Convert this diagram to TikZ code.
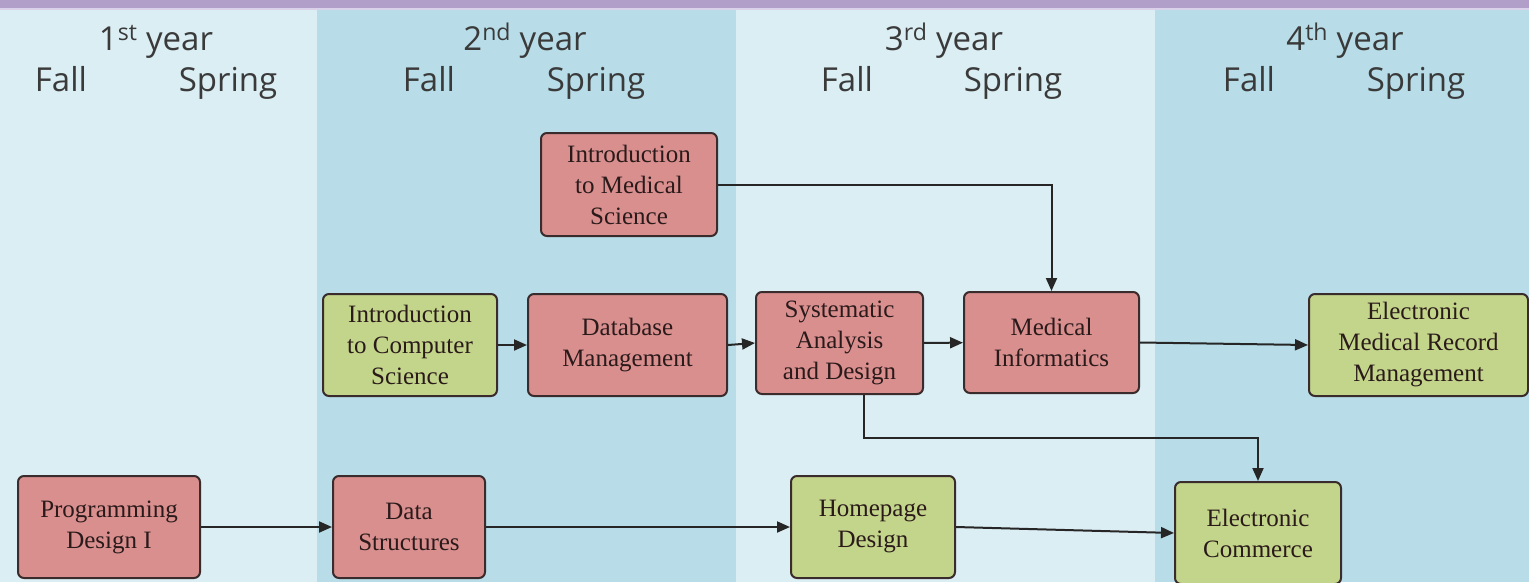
\documentclass[tikz,border=0pt]{standalone}
\usepackage{fontspec}
\setmainfont{Liberation Serif}
\newfontfamily\headfont{Open Sans}
\usetikzlibrary{arrows.meta}
\definecolor{bandlight}{HTML}{DBEEF4}
\definecolor{banddark}{HTML}{B8DDE8}
\definecolor{barpurple}{HTML}{B29FC9}
\definecolor{barline}{HTML}{D9D2EA}
\definecolor{boxred}{HTML}{DA8F8F}
\definecolor{boxgreen}{HTML}{C3D58A}
\definecolor{boxline}{HTML}{3A2C2C}
\definecolor{headtext}{HTML}{3A3A3A}
\definecolor{boxtext}{HTML}{2A1A1A}
\tikzset{
  course/.style={draw=boxline, line width=2pt, rounded corners=6pt, align=center,
    inner sep=0pt, text=boxtext,
    font=\fontsize{25}{31}\selectfont},
  redbox/.style={course, fill=boxred},
  greenbox/.style={course, fill=boxgreen},
  arr/.style={draw=black!85, line width=2pt, -{Triangle[length=13pt,width=11pt]}},
  head/.style={anchor=base, text=headtext, inner sep=0pt, font=\headfont\fontsize{33}{36}\selectfont}
}
\begin{document}
\begin{tikzpicture}[x=1pt,y=-1pt]
\clip (0,0) rectangle (1529,582);
% bands
\fill[bandlight] (0,0) rectangle (317,582);
\fill[banddark] (317,0) rectangle (736,582);
\fill[bandlight] (736,0) rectangle (1155,582);
\fill[banddark] (1155,0) rectangle (1529,582);
\fill[barline] (0,0) rectangle (1529,10);
\fill[barpurple] (0,0) rectangle (1529,8);
% headers
\node[head] (y1) at (156,50) {1\textsuperscript{st} year};
\node[head] (f1) at (61,91) {Fall};
\node[head] (s1) at (228,91) {Spring};
\node[head] (y2) at (525,50) {2\textsuperscript{nd} year};
\node[head] (f2) at (429,91) {Fall};
\node[head] (s2) at (596,91) {Spring};
\node[head] (y3) at (944,50) {3\textsuperscript{rd} year};
\node[head] (f3) at (847,91) {Fall};
\node[head] (s3) at (1013,91) {Spring};
\node[head] (y4) at (1345,50) {4\textsuperscript{th} year};
\node[head] (f4) at (1249,91) {Fall};
\node[head] (s4) at (1416,91) {Spring};
% courses
\node[redbox, minimum width=182pt, minimum height=102pt] (pd) at (109,527) {Programming\\Design I};
\node[redbox, minimum width=152pt, minimum height=102pt] (ds) at (409,527) {Data\\Structures};
\node[greenbox, minimum width=164pt, minimum height=102pt] (hp) at (873,527) {Homepage\\Design};
\node[greenbox, minimum width=166pt, minimum height=102pt] (ec) at (1258,533) {Electronic\\Commerce};
\node[greenbox, minimum width=174pt, minimum height=102pt] (ics) at (410,345) {Introduction\\to Computer\\Science};
\node[redbox, minimum width=199pt, minimum height=102pt] (db) at (627.5,345) {Database\\Management};
\node[redbox, minimum width=167pt, minimum height=102pt] (sad) at (839.5,343) {Systematic\\Analysis\\and Design};
\node[redbox, minimum width=175pt, minimum height=101pt] (mi) at (1051.5,342.5) {Medical\\Informatics};
\node[greenbox, minimum width=219pt, minimum height=102pt] (emr) at (1418.5,345) {Electronic\\Medical Record\\Management};
\node[redbox, minimum width=176pt, minimum height=103pt] (ims) at (629,184.5) {Introduction\\to Medical\\Science};
% connectors
\coordinate (bend) at (864,438);
\draw[arr] (pd) -- (ds);
\draw[arr] (ds) -- (hp);
\draw[arr] (hp.east) -- (ec.west);
\draw[arr] (ics) -- (db);
\draw[arr] (db.east) -- (sad.west);
\draw[arr] (sad) -- (mi);
\draw[arr] (mi.east) -- (emr.west);
\draw[arr] (ims.east) -| (mi.north);
\draw[arr] (sad.south -| bend) -- (bend) -| (ec.north);
\end{tikzpicture}
\end{document}
